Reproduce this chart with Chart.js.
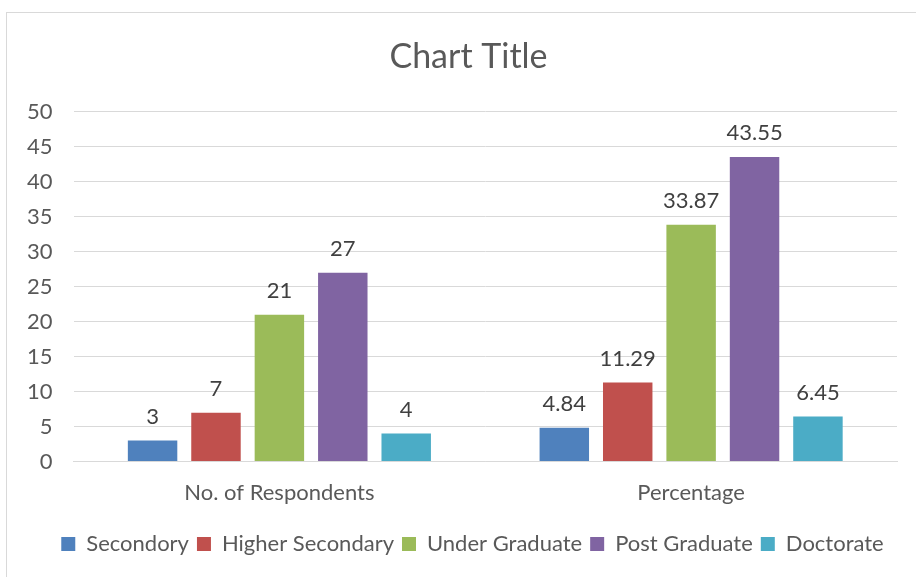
<!DOCTYPE html>
<html>
<head>
<meta charset="utf-8">
<script src="https://cdn.jsdelivr.net/npm/chart.js@4"></script>
<style>
  html, body { margin: 0; padding: 0; background: #fff; }
  #wrap { position: relative; width: 916px; height: 577px; }
</style>
</head>
<body>
<div id="wrap"><canvas id="chart" width="916" height="577"></canvas></div>
<script>
// Datos del gráfico
const categories = ['No. of Respondents', 'Percentage'];
const seriesNames = ['Secondory', 'Higher Secondary', 'Under Graduate', 'Post Graduate', 'Doctorate'];
const secondory = [3, 4.84];
const higherSecondary = [7, 11.29];
const underGraduate = [21, 33.87];
const postGraduate = [27, 43.55];
const doctorate = [4, 6.45];
const yTicks = [0, 5, 10, 15, 20, 25, 30, 35, 40, 45, 50];

const seriesValues = [secondory, higherSecondary, underGraduate, postGraduate, doctorate];
const seriesColors = ['#4F81BD', '#C0504D', '#9BBB59', '#8064A2', '#4BACC6'];
const textColor = '#595959';
const fontFamily = 'Lato, "Open Sans", sans-serif';

// Borde exterior del gráfico (estilo Excel)
const frame = {
    id: 'frame',
    beforeDraw(chart) {
        const ctx = chart.ctx;
        ctx.save();
        ctx.strokeStyle = '#d9d9d9';
        ctx.lineWidth = 1;
        ctx.strokeRect(6.5, 12.5, 1000, 1000);
        ctx.restore();
    }
};

// Desplaza título y leyenda para centrarlos como en Excel
const nudge = {
    id: 'nudge',
    afterLayout(chart) {
        chart.titleBlock.left += 17;
        chart.titleBlock.right += 17;
        chart.legend.left += 21;
        chart.legend.right += 21;
    }
};

// Etiquetas de valor encima de cada barra
const valueLabels = {
    id: 'valueLabels',
    afterDatasetsDraw(chart) {
        const ctx = chart.ctx;
        ctx.save();
        ctx.font = '22px ' + fontFamily;
        ctx.fillStyle = '#404040';
        ctx.textAlign = 'center';
        ctx.textBaseline = 'bottom';
        chart.data.datasets.forEach((ds, i) => {
            chart.getDatasetMeta(i).data.forEach((bar, j) => {
                ctx.fillText(String(ds.data[j]), bar.x, bar.y - 13);
            });
        });
        ctx.restore();
    }
};

new Chart(document.getElementById('chart'), {
    type: 'bar',
    data: {
        labels: categories,
        datasets: seriesNames.map((name, i) => ({
            label: name,
            data: seriesValues[i],
            backgroundColor: seriesColors[i],
            categoryPercentage: 0.77,
            barPercentage: 0.78
        }))
    },
    options: {
        responsive: false,
        animation: false,
        layout: { padding: { left: 6, right: 19, top: 20, bottom: 12 } },
        plugins: {
            title: {
                display: true,
                text: 'Chart Title',
                color: textColor,
                font: { family: fontFamily, size: 34, weight: 'normal' },
                padding: { top: 17, bottom: 34 }
            },
            legend: {
                position: 'bottom',
                labels: {
                    color: textColor,
                    font: { family: fontFamily, size: 22 },
                    boxWidth: 14,
                    boxHeight: 14,
                    padding: 8
                }
            },
            tooltip: { enabled: false }
        },
        scales: {
            x: {
                grid: { display: false },
                border: { color: '#d9d9d9' },
                afterFit(scale) {
                    scale.height += 9;
                },
                ticks: {
                    color: textColor,
                    font: { family: fontFamily, size: 22 },
                    padding: 10
                }
            },
            y: {
                min: 0,
                max: 50,
                afterBuildTicks(scale) {
                    scale.ticks = yTicks.map(v => ({ value: v }));
                },
                grid: { color: '#d9d9d9', drawTicks: false },
                border: { display: false },
                ticks: {
                    color: textColor,
                    font: { family: fontFamily, size: 22 },
                    padding: 21
                }
            }
        }
    },
    plugins: [frame, nudge, valueLabels]
});
</script>
</body>
</html>
